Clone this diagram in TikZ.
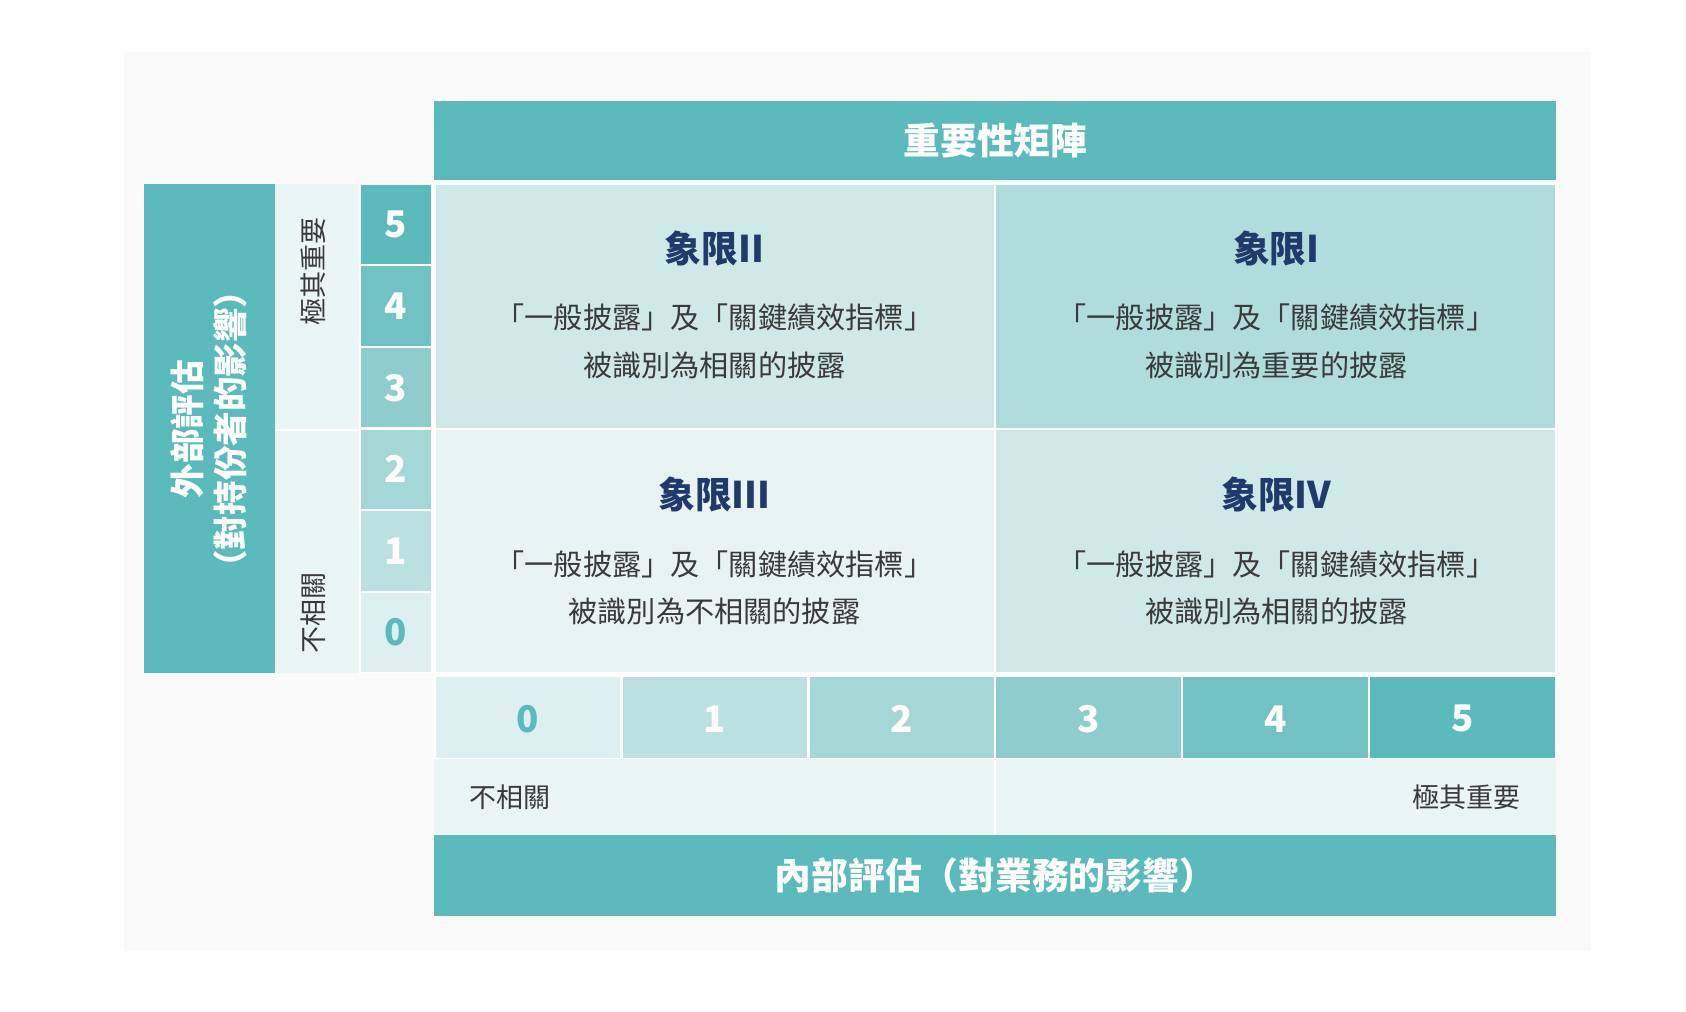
\documentclass[tikz,border=0pt]{standalone}
\usepackage{fontspec}
\setmainfont{Noto Sans CJK TC}
\definecolor{teal5}{HTML}{5BBABC}
\definecolor{teal4}{HTML}{73C2C3}
\definecolor{teal3}{HTML}{8FCCCD}
\definecolor{teal2}{HTML}{A5D7D7}
\definecolor{teal1}{HTML}{BCE1E1}
\definecolor{teal0}{HTML}{DDEFF0}
\definecolor{qI}{HTML}{B0DCDC}
\definecolor{qII}{HTML}{CFE8E8}
\definecolor{qIII}{HTML}{E8F4F4}
\definecolor{lab}{HTML}{EAF5F5}
\definecolor{navy}{HTML}{1F3A6B}
\definecolor{txt}{HTML}{3A3A3A}
\begin{document}
\begin{tikzpicture}[x=0.5pt,y=-0.5pt,
  cell/.style={draw=white,line width=1pt},
  num/.style={font=\bfseries\fontsize{17}{20}\selectfont,text=white},
  qt/.style={font=\bfseries\fontsize{17}{20}\selectfont,text=navy},
  qb/.style={font=\fontsize{13.5}{22}\selectfont,text=txt,align=center},
  sm/.style={font=\fontsize{12.5}{15}\selectfont,text=txt}]
\useasboundingbox (0,0) rectangle (1560,936);
\fill[white] (0,0) rectangle (1560,936);
\fill[black!2] (115,48) rectangle (1472,880);
% header
\fill[teal5] (402,93) rectangle (1440,167);
\node[font=\bfseries\fontsize{17}{20}\selectfont,text=white] (hdr) at (921,130) {重要性矩陣};
% left panel
\fill[teal5] (133,170) rectangle (254,623);
\node[rotate=90,align=center,font=\bfseries\fontsize{16}{20}\selectfont,text=white] (ext) at (193,397) {外部評估\\（對持份者的影響）};
\fill[lab] (254,170) rectangle (333,623);
\draw[white,line width=1pt] (254,398) -- (333,398);
\node[rotate=90,sm,anchor=east] (lhi) at (290,194) {極其重要};
\node[rotate=90,sm,anchor=west] (llo) at (290,612) {不相關};
% left numbers
\foreach \i/\c/\t in {5/teal5/white,4/teal4/white,3/teal3/white,2/teal2/white,1/teal1/white,0/teal0/teal5}{
  \pgfmathsetmacro{\ya}{170+(5-\i)*75.5}
  \pgfmathsetmacro{\yb}{\ya+75.5}
  \fill[\c,draw=white,line width=1pt] (333,\ya) rectangle (400,\yb);
  \node[num,text=\t] (ln\i) at (366.5,{(\ya+\yb)/2}) {\i};
}
% quadrants
\fill[qII,cell] (402,170) rectangle (921,397);
\fill[qI,cell] (921,170) rectangle (1440,397);
\fill[qIII,cell] (402,397) rectangle (921,623);
\fill[qII,cell] (921,397) rectangle (1440,623);
\node[qt] (q2) at (661,230) {象限II};
\node[qb] (q2b) at (661,316) {「一般披露」及「關鍵績效指標」\\被識別為相關的披露};
\node[qt] (q1) at (1181,230) {象限I};
\node[qb] (q1b) at (1181,316) {「一般披露」及「關鍵績效指標」\\被識別為重要的披露};
\node[qt] (q3) at (661,458) {象限III};
\node[qb] (q3b) at (661,544) {「一般披露」及「關鍵績效指標」\\被識別為不相關的披露};
\node[qt] (q4) at (1181,458) {象限IV};
\node[qb] (q4b) at (1181,544) {「一般披露」及「關鍵績效指標」\\被識別為相關的披露};
% bottom numbers
\foreach \i/\c/\t in {0/teal0/teal5,1/teal1/white,2/teal2/white,3/teal3/white,4/teal4/white,5/teal5/white}{
  \pgfmathsetmacro{\xa}{402+\i*173}
  \pgfmathsetmacro{\xb}{\xa+173}
  \fill[\c,draw=white,line width=1pt] (\xa,625) rectangle (\xb,702);
  \node[num,text=\t] (bn\i) at ({(\xa+\xb)/2},665) {\i};
}
\fill[lab] (402,702) rectangle (1440,772);
\draw[white,line width=1pt] (921,702) -- (921,772);
\node[sm,anchor=west] (blo) at (427,738) {不相關};
\node[sm,anchor=east] (bhi) at (1414,738) {極其重要};
\fill[teal5] (402,773) rectangle (1440,848);
\node[font=\bfseries\fontsize{17}{20}\selectfont,text=white] (intl) at (921,810) {內部評估（對業務的影響）};
\end{tikzpicture}
\end{document}
